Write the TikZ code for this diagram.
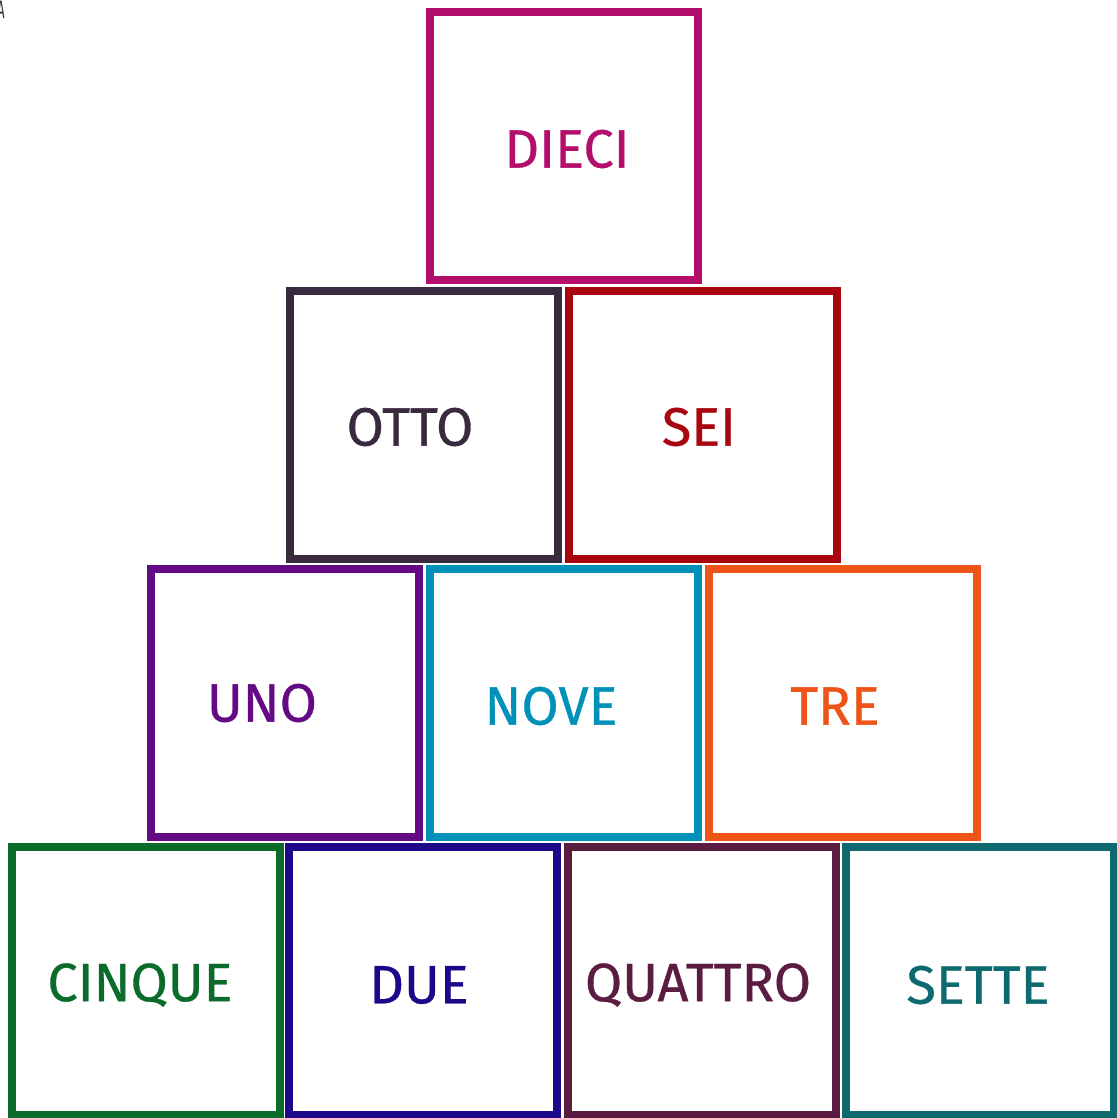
\documentclass[tikz,border=0pt]{standalone}
\usepackage{fontspec}
\setmainfont{Fira Sans}
\definecolor{cDieci}{RGB}{180,14,108}
\definecolor{cOtto}{RGB}{58,42,64}
\definecolor{cSei}{RGB}{168,7,15}
\definecolor{cUno}{RGB}{101,10,133}
\definecolor{cNove}{RGB}{0,145,185}
\definecolor{cTre}{RGB}{238,84,24}
\definecolor{cCinque}{RGB}{11,107,42}
\definecolor{cDue}{RGB}{28,8,136}
\definecolor{cQuattro}{RGB}{90,28,64}
\definecolor{cSette}{RGB}{14,106,110}
\begin{document}
\begin{tikzpicture}[x=0.75pt,y=-0.75pt,
  block/.style={draw=#1,line width=6pt,minimum width=201pt,minimum height=201pt,inner sep=0pt},
  lbl/.style={text=#1,font=\fontsize{40.5}{42}\selectfont\addfontfeatures{FakeBold=0.6},inner sep=0pt,anchor=center}]
\useasboundingbox (0,0) rectangle (1117,1118);
% boxes
\node[block=cDieci]   (bDieci)   at (564,146)   {};
\node[block=cOtto]    (bOtto)    at (424,425)   {};
\node[block=cSei]     (bSei)     at (702.5,425) {};
\node[block=cUno]     (bUno)     at (285,703)   {};
\node[block=cNove]    (bNove)    at (563.5,703) {};
\node[block=cTre]     (bTre)     at (843,703)   {};
\node[block=cCinque]  (bCinque)  at (146,980.5) {};
\node[block=cDue]     (bDue)     at (423,980.5) {};
\node[block=cQuattro] (bQuattro) at (701.5,980.5) {};
\node[block=cSette]   (bSette)   at (979.5,980.5) {};
% labels
\node[lbl=cDieci]   (tDieci)   at (567,149) {DIECI};
\node[lbl=cOtto]    (tOtto)    at (410,427) {OTTO};
\node[lbl=cSei]     (tSei)     at (699,427) {SEI};
\node[lbl=cUno]     (tUno)     at (262,703) {UNO};
\node[lbl=cNove]    (tNove)    at (551,706) {NOVE};
\node[lbl=cTre]     (tTre)     at (835,706) {TRE};
\node[lbl=cCinque]  (tCinque)  at (140,985) {CINQUE};
\node[lbl=cDue]     (tDue)     at (419,985) {DUE};
\node[lbl=cQuattro] (tQuattro) at (698,985) {QUATTRO};
\node[lbl=cSette]   (tSette)   at (978,985) {SETTE};
% stray corner letter
\node[text=black!80,font=\fontsize{19}{20}\selectfont\addfontfeatures{FakeStretch=0.5},inner sep=0pt] (corner) at (1,10) {A};
\end{tikzpicture}
\end{document}
